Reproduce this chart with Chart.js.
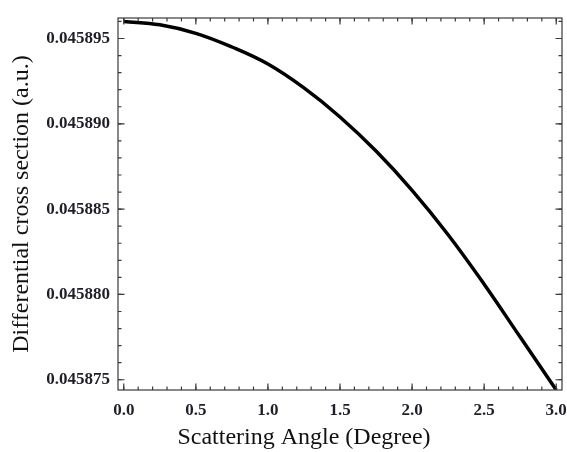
<!DOCTYPE html>
<html>
<head>
<meta charset="utf-8">
<script src="https://cdn.jsdelivr.net/npm/chart.js@4.4.1/dist/chart.umd.min.js"></script>
<style>
  html, body { margin: 0; padding: 0; background: #fff; }
  #wrap { width: 567px; height: 452px; }
</style>
</head>
<body>
<div id="wrap"><canvas id="chart" width="567" height="452"></canvas></div>
<script>
// ── Data ──────────────────────────────────────────────────────────────────
const angles = [0, 0.25, 0.5, 0.75, 1.0, 1.25, 1.5, 1.75, 2.0, 2.25, 2.5, 2.75, 3.0];
const crossSection = [
  0.0458960, 0.0458958, 0.0458953, 0.0458945, 0.0458935, 0.0458921, 0.0458904,
  0.0458884, 0.0458861, 0.0458835, 0.0458806, 0.0458775, 0.0458744,
];

const xTicks = [0, 0.5, 1.0, 1.5, 2.0, 2.5, 3.0];
const xLabels = ['0.0', '0.5', '1.0', '1.5', '2.0', '2.5', '3.0'];
const yTicks = [0.045875, 0.045880, 0.045885, 0.045890, 0.045895];
const yLabels = ['0.045875', '0.045880', '0.045885', '0.045890', '0.045895'];

const xTitle = 'Scattering Angle (Degree)';
const yTitle = 'Differential cross section (a.u.)';

// minor tick spacing
const X_MINOR_STEP = 0.1;
const Y_MINOR_STEP = 0.000001;

const TEXT = '#1f1f2a';
const FRAME = '#3a3a3a';
const SERIF = "'Liberation Serif', 'Times New Roman', serif";

// ── Frame + inward ticks on all four sides, x title ──────────────────────
const frameTicks = {
  id: 'frameTicks',
  afterDraw(chart) {
    const { ctx, chartArea: a, scales } = chart;
    const xs = scales.x, ys = scales.y;
    ctx.save();
    ctx.strokeStyle = FRAME;
    ctx.lineWidth = 1.2;
    ctx.strokeRect(a.left, a.top, a.right - a.left, a.bottom - a.top);

    const xMinor = [];
    for (let i = 0; i <= 30; i++) xMinor.push(i * X_MINOR_STEP);
    const yMinor = [];
    for (let i = 0; i <= 22; i++) yMinor.push(0.045874 + i * Y_MINOR_STEP);

    const drawX = (v, len) => {
      const px = xs.getPixelForValue(v);
      if (px < a.left || px > a.right) return;
      ctx.beginPath();
      ctx.moveTo(px, a.bottom); ctx.lineTo(px, a.bottom - len);
      ctx.moveTo(px, a.top); ctx.lineTo(px, a.top + len);
      ctx.stroke();
    };
    const drawY = (v, len) => {
      const py = ys.getPixelForValue(v);
      if (py < a.top || py > a.bottom) return;
      ctx.beginPath();
      ctx.moveTo(a.left, py); ctx.lineTo(a.left + len, py);
      ctx.moveTo(a.right, py); ctx.lineTo(a.right - len, py);
      ctx.stroke();
    };
    xMinor.forEach(v => drawX(v, 3.5));
    xTicks.forEach(v => drawX(v, 6.5));
    yMinor.forEach(v => drawY(v, 3.5));
    yTicks.forEach(v => drawY(v, 6.5));

    // x title sits a bit left of the plot centre in the original
    ctx.fillStyle = '#111';
    ctx.font = '24px ' + SERIF;
    ctx.textAlign = 'center';
    ctx.textBaseline = 'middle';
    ctx.fillText(xTitle, (a.left + a.right) / 2 - 36, a.bottom + 48);
    ctx.restore();
  },
};

new Chart(document.getElementById('chart'), {
  type: 'scatter',
  data: {
    datasets: [{
      data: angles.map((a, i) => ({ x: a, y: crossSection[i] })),
      showLine: true,
      borderColor: '#000',
      borderWidth: 3.5,
      pointRadius: 0,
      tension: 0.4,
    }],
  },
  options: {
    responsive: false,
    animation: false,
    layout: { padding: { top: 18, right: 5, left: 0, bottom: 0 } },
    plugins: { legend: { display: false }, tooltip: { enabled: false } },
    scales: {
      x: {
        type: 'linear',
        min: -0.04,
        max: 3.04,
        afterBuildTicks: s => { s.ticks = xTicks.map(v => ({ value: v })); },
        afterFit: s => { s.height = 62; s.paddingLeft = 0; s.paddingRight = 0; },
        grid: { display: false, drawTicks: false },
        border: { display: false },
        ticks: {
          autoSkip: false,
          maxRotation: 0,
          padding: 10,
          color: TEXT,
          font: { family: SERIF, size: 17, weight: 'bold' },
          callback: (v, i) => xLabels[i],
        },
      },
      y: {
        type: 'linear',
        min: 0.0458744,
        max: 0.0458962,
        afterBuildTicks: s => { s.ticks = yTicks.map(v => ({ value: v })); },
        afterFit: s => { s.width = 118; s.paddingTop = 0; s.paddingBottom = 0; },
        grid: { display: false, drawTicks: false },
        border: { display: false },
        ticks: {
          autoSkip: false,
          padding: 8,
          color: TEXT,
          font: { family: SERIF, size: 17, weight: 'bold' },
          callback: (v, i) => yLabels[i],
        },
        title: {
          display: true,
          text: yTitle,
          color: '#111',
          font: { family: SERIF, size: 24 },
          padding: { top: 7, bottom: 0 },
        },
      },
    },
  },
  plugins: [frameTicks],
});
</script>
</body>
</html>
